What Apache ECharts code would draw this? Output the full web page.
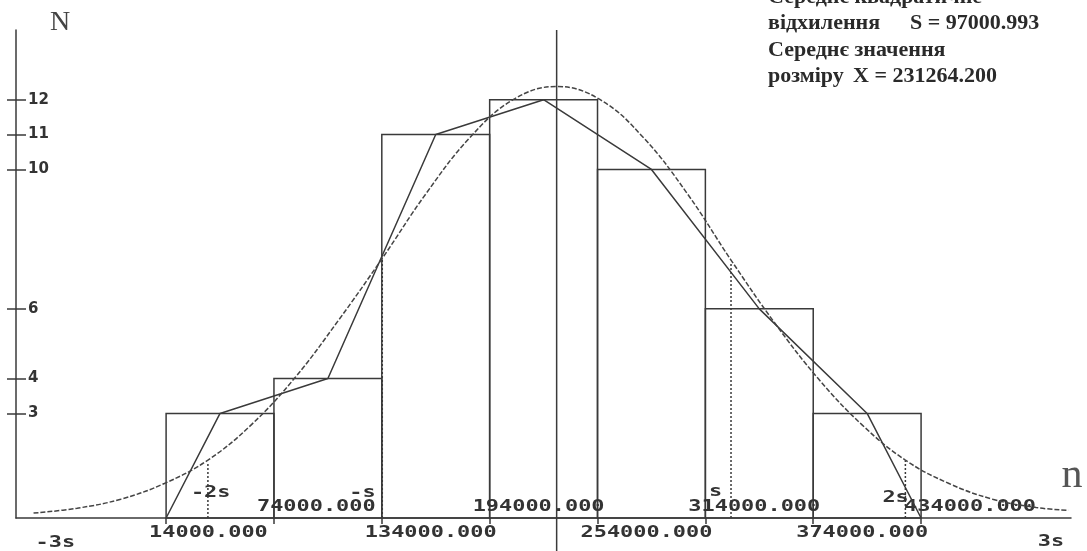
<!DOCTYPE html>
<html><head><meta charset="utf-8">
<script src="https://cdn.jsdelivr.net/npm/echarts@6/dist/echarts.min.js"></script>
<style>html,body{margin:0;padding:0;background:#fff}#c{width:1087px;height:551px}</style>
</head><body><div id="c"></div>
<script>
// ---- data ----
const binEdges = [14000, 74000, 134000, 194000, 254000, 314000, 374000, 434000];
const binCounts = [3, 4, 11, 12, 10, 6, 3];
const edgeLabels = ['14000.000', '74000.000', '134000.000', '194000.000', '254000.000', '314000.000', '374000.000', '434000.000'];
const yTickValues = [3, 4, 6, 10, 11, 12];
const meanX = 231264.2;
const stdS = 97000.993;
const sigmaSteps = [-3, -2, -1, 1, 2, 3];
const sigmaLabels = ['-3s', '-2s', '-s', 's', '2s', '3s'];
const sigmaLineSteps = [-2, -1, 1, 2];
const sigmaLineTops = [1.6, 7.45, 7.3, 1.65];
const curveX = [-59739, -35489, -11238, 13012, 37262, 61513, 85763, 110013, 134263, 158514, 182764, 207014, 231264, 255514, 279765, 304015, 328265, 352515, 376766, 401016, 425266, 449516, 473767, 498017, 516000];
const curveY = [0.14, 0.28, 0.54, 0.99, 1.66, 2.68, 4.03, 5.68, 7.45, 9.3, 10.9, 12.0, 12.38, 12.0, 10.9, 9.3, 7.4, 5.6, 4.0, 2.68, 1.66, 0.99, 0.54, 0.3, 0.22];
const infoLines = ['Середнє квадратичне', 'відхилення', 'S = 97000.993', 'Середнє значення', 'розміру', 'X = 231264.200'];

// ---- styles ----
const INK = '#3a3a3a';
const monoFont = '"DejaVu Sans Mono", monospace';
const edgeLabelStyle = {dx: -17, dyAbove: -11, dyBelow: 15, scaleX: 1.46};
const sigmaLabelOffsets = [[2, 25], [-17, -25], [-33, -25], [-22, -26], [-23, -20], [-42, 24]];

const binData = binCounts.map((c, i) => [binEdges[i], binEdges[i + 1], c]);
const mids = binCounts.map((c, i) => (binEdges[i] + binEdges[i + 1]) / 2);
const polyData = [[binEdges[0], 0]].concat(mids.map((m, i) => [m, binCounts[i]])).concat([[binEdges[binEdges.length - 1], 0]]);
const curveData = curveX.map((x, i) => [x, curveY[i]]);

const chart = echarts.init(document.getElementById('c'), null, {renderer: 'canvas'});
chart.setOption({
  backgroundColor: '#ffffff',
  animation: false,
  grid: {left: 16, right: 16, top: 30, bottom: 33},
  xAxis: {
    type: 'value', min: -69500, max: 517400,
    axisLine: {show: true, onZero: false, lineStyle: {color: INK, width: 1.5}},
    axisTick: {show: true, length: 6, customValues: binEdges, lineStyle: {color: INK, width: 1.5}},
    axisLabel: {show: false}, splitLine: {show: false}
  },
  yAxis: [{
    type: 'value', min: 0, max: 14, position: 'left',
    axisLine: {show: true, onZero: false, lineStyle: {color: INK, width: 1.5}},
    axisTick: {show: true, inside: true, length: 10, customValues: yTickValues, lineStyle: {color: INK, width: 1.5}},
    axisLabel: {show: true, inside: true, margin: 12, customValues: yTickValues, fontFamily: '"DejaVu Sans"', fontWeight: 'bold', fontSize: 15, color: '#333'},
    splitLine: {show: false}
  }, {
    type: 'value', min: 0, max: 14, position: 'left',
    axisLine: {show: false, onZero: false},
    axisTick: {show: true, inside: false, length: 9, customValues: yTickValues, lineStyle: {color: INK, width: 1.5}},
    axisLabel: {show: false}, splitLine: {show: false}
  }],
  graphic: [
    {type: 'text', x: 60, y: 23, style: {text: 'N', fontFamily: '"Liberation Serif", serif', fontSize: 28, fill: '#444', align: 'center', verticalAlign: 'middle'}},
    {type: 'text', x: 1072, y: 476, style: {text: 'n', fontFamily: '"Liberation Serif", serif', fontSize: 42, fill: '#555', align: 'center', verticalAlign: 'middle'}},
    {type: 'text', x: 768, y: -3, style: {text: infoLines[0], fontFamily: '"Liberation Serif", serif', fontWeight: 'bold', fontSize: 22, fill: '#2a2a2a', verticalAlign: 'middle'}},
    {type: 'text', x: 768, y: 23, style: {text: infoLines[1], fontFamily: '"Liberation Serif", serif', fontWeight: 'bold', fontSize: 22, fill: '#2a2a2a', verticalAlign: 'middle'}},
    {type: 'text', x: 910, y: 23, style: {text: infoLines[2], fontFamily: '"Liberation Serif", serif', fontWeight: 'bold', fontSize: 22, fill: '#2a2a2a', verticalAlign: 'middle'}},
    {type: 'text', x: 768, y: 50, style: {text: infoLines[3], fontFamily: '"Liberation Serif", serif', fontWeight: 'bold', fontSize: 22, fill: '#2a2a2a', verticalAlign: 'middle'}},
    {type: 'text', x: 768, y: 76, style: {text: infoLines[4], fontFamily: '"Liberation Serif", serif', fontWeight: 'bold', fontSize: 22, fill: '#2a2a2a', verticalAlign: 'middle'}},
    {type: 'text', x: 853, y: 76, style: {text: infoLines[5], fontFamily: '"Liberation Serif", serif', fontWeight: 'bold', fontSize: 22, fill: '#2a2a2a', verticalAlign: 'middle'}}
  ],
  series: [
    {
      name: 'bins', type: 'custom', data: binData, clip: false,
      renderItem: function (params, api) {
        const p0 = api.coord([api.value(0), api.value(2)]);
        const p1 = api.coord([api.value(1), 0]);
        return {type: 'rect', shape: {x: p0[0], y: p0[1], width: p1[0] - p0[0], height: p1[1] - p0[1]},
          style: {fill: 'none', stroke: INK, lineWidth: 1.5}};
      }
    },
    {
      name: 'sigmaLines', type: 'custom', data: sigmaLineSteps.map((k, i) => [meanX + k * stdS, sigmaLineTops[i]]),
      renderItem: function (params, api) {
        const a = api.coord([api.value(0), 0]);
        const b = api.coord([api.value(0), api.value(1)]);
        return {type: 'line', shape: {x1: a[0], y1: a[1], x2: b[0], y2: b[1]},
          style: {stroke: INK, lineWidth: 1.5, lineDash: [2, 2]}};
      }
    },
    {
      name: 'mean', type: 'line', data: [[meanX, -0.95], [meanX, 14]], clip: false,
      symbol: 'none', lineStyle: {color: INK, width: 1.5}
    },
    {
      name: 'polygon', type: 'line', data: polyData, symbol: 'none',
      lineStyle: {color: INK, width: 1.5}
    },
    {
      name: 'normal', type: 'line', data: curveData, symbol: 'none', smooth: 0.4, clip: false,
      lineStyle: {color: '#444', width: 1.5, type: [5, 2]}
    },
    {
      name: 'edgeLabels', type: 'custom', data: binEdges.map((e, i) => [e, 0, i]), clip: false,
      renderItem: function (params, api) {
        const i = api.value(2);
        const p = api.coord([api.value(0), 0]);
        const above = i % 2 === 1;
        return {type: 'text', x: p[0] + edgeLabelStyle.dx, y: p[1] + (above ? edgeLabelStyle.dyAbove : edgeLabelStyle.dyBelow),
          scaleX: edgeLabelStyle.scaleX,
          style: {text: edgeLabels[i], fontFamily: monoFont, fontWeight: 'bold', fontSize: 15, fill: '#333', align: 'left', verticalAlign: 'middle'}};
      }
    },
    {
      name: 'sigmaLabels', type: 'custom', data: sigmaSteps.map((k, i) => [meanX + k * stdS, 0, i]), clip: false,
      renderItem: function (params, api) {
        const i = api.value(2);
        const p = api.coord([api.value(0), 0]);
        const off = sigmaLabelOffsets[i];
        return {type: 'text', x: p[0] + off[0], y: p[1] + off[1], scaleX: 1.46,
          style: {text: sigmaLabels[i], fontFamily: monoFont, fontWeight: 'bold', fontSize: 15, fill: '#333', align: 'left', verticalAlign: 'middle'}};
      }
    }
  ]
});
</script></body></html>
